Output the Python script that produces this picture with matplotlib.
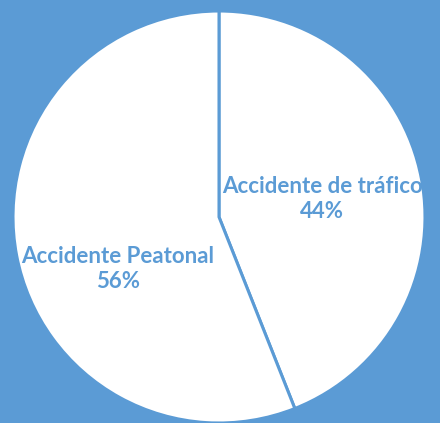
import matplotlib.pyplot as plt

categories = ['Accidente de tráfico', 'Accidente Peatonal']
values = [44, 56]

blue = '#5B9BD5'

fig = plt.figure(figsize=(4.40, 4.23), dpi=100)
fig.patch.set_facecolor(blue)
ax = fig.add_axes([0, 0, 1, 1])
ax.set_facecolor(blue)

wedges, _ = ax.pie(values, startangle=90, counterclock=False,
                   center=(219, 206), radius=206,
                   colors=['white', 'white'],
                   wedgeprops=dict(edgecolor=blue, linewidth=2.2))

ax.set_xlim(0, 440)
ax.set_ylim(0, 423)
ax.set_aspect('auto')
ax.axis('off')

label_pos = [(322, 224), (118, 154)]
for (x, y), c, v in zip(label_pos, categories, values):
    ax.text(x, y, f'{c}\n{v}%', ha='center', va='center', color=blue,
            fontsize=16, fontweight='bold', family='Lato',
            linespacing=1.2)

fig.savefig('out.png', dpi=100, facecolor=blue)
